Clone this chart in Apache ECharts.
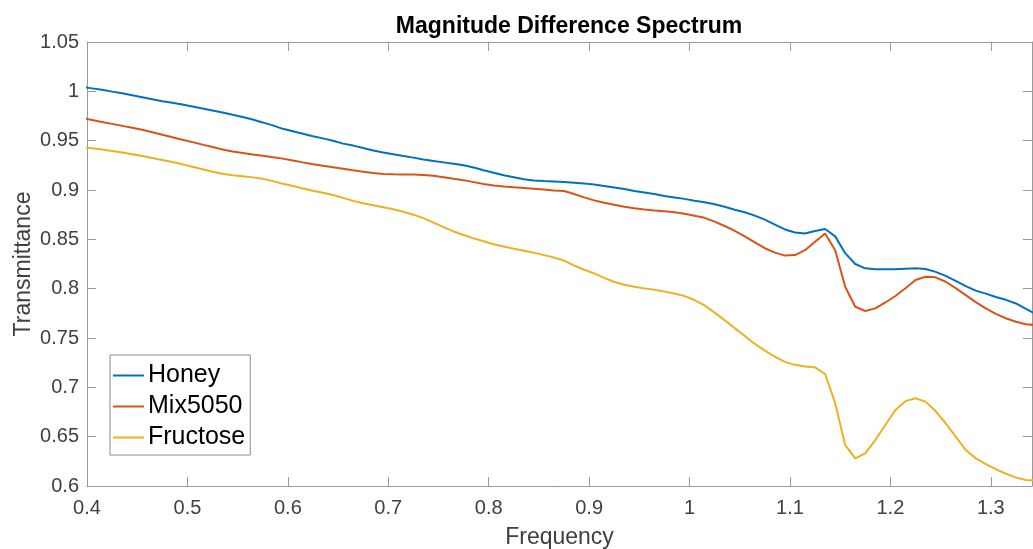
<!DOCTYPE html>
<html>
<head>
<meta charset="utf-8">
<script src="https://cdn.jsdelivr.net/npm/echarts@6/dist/echarts.min.js"></script>
<style>html,body{margin:0;padding:0;background:#fff}#c{width:1033px;height:549px}</style>
</head>
<body>
<div id="c"></div>
<script>
var frequency = [
0.395,0.405,0.415,0.425,0.435,0.445,0.455,0.465,0.475,0.485,
0.495,0.505,0.515,0.525,0.535,0.545,0.555,0.565,0.575,0.585,
0.595,0.605,0.615,0.625,0.635,0.645,0.655,0.665,0.675,0.685,
0.695,0.705,0.715,0.725,0.735,0.745,0.755,0.765,0.775,0.785,
0.795,0.805,0.815,0.825,0.835,0.845,0.855,0.865,0.875,0.885,
0.895,0.905,0.915,0.925,0.935,0.945,0.955,0.965,0.975,0.985,
0.995,1.005,1.015,1.025,1.035,1.045,1.055,1.065,1.075,1.085,
1.095,1.105,1.115,1.125,1.135,1.145,1.155,1.165,1.175,1.185,
1.195,1.205,1.215,1.225,1.235,1.245,1.255,1.265,1.275,1.285,
1.295,1.305,1.315,1.325,1.335,1.345];

var honey = [
1.0045,1.003,1.0015,0.9997,0.998,0.996,0.994,0.992,0.990,0.9885,
0.9866,0.9847,0.9827,0.9806,0.9785,0.9762,0.974,0.9714,0.9685,0.9655,
0.962,0.9595,0.957,0.9545,0.9523,0.950,0.947,0.945,0.9425,0.940,
0.938,0.9362,0.9345,0.9328,0.931,0.9295,0.928,0.9265,0.925,0.9228,
0.920,0.9175,0.915,0.913,0.911,0.9097,0.909,0.9085,0.908,0.9073,
0.9065,0.9055,0.904,0.9025,0.901,0.899,0.8975,0.896,0.894,0.8925,
0.891,0.889,0.8875,0.8855,0.883,0.880,0.8775,0.874,0.870,0.865,
0.860,0.857,0.856,0.8585,0.8605,0.853,0.836,0.825,0.8206,0.8198,
0.8196,0.8198,0.8203,0.8206,0.820,0.817,0.813,0.808,0.8025,0.798,
0.795,0.7915,0.7887,0.785,0.7795,0.774];

var mix5050 = [
0.973,0.971,0.969,0.967,0.965,0.963,0.961,0.9585,0.956,0.9535,
0.951,0.9485,0.946,0.9435,0.941,0.939,0.9375,0.936,0.9347,0.9333,
0.9318,0.930,0.928,0.9262,0.9245,0.923,0.9215,0.920,0.9186,0.9172,
0.9163,0.916,0.9158,0.9157,0.9153,0.9145,0.913,0.9113,0.910,0.908,
0.906,0.9045,0.9035,0.9027,0.902,0.9013,0.9005,0.8995,0.899,0.896,
0.8925,0.8895,0.887,0.885,0.883,0.8815,0.8803,0.8793,0.8785,0.8775,
0.876,0.874,0.8718,0.868,0.8635,0.8585,0.853,0.847,0.841,0.8365,
0.8335,0.834,0.839,0.8476,0.856,0.839,0.802,0.7817,0.7774,0.780,
0.786,0.7926,0.8005,0.8088,0.812,0.8115,0.807,0.8005,0.7935,0.7863,
0.780,0.7745,0.770,0.7665,0.764,0.763];

var fructose = [
0.9437,0.9423,0.941,0.9395,0.938,0.9363,0.9345,0.9325,0.9305,0.9283,
0.926,0.9235,0.921,0.9185,0.9165,0.915,0.914,0.9128,0.9113,0.909,
0.9063,0.904,0.9015,0.8993,0.8972,0.895,0.892,0.889,0.8865,0.8845,
0.8825,0.8805,0.878,0.875,0.8715,0.867,0.8623,0.858,0.8544,0.851,
0.848,0.845,0.8428,0.8405,0.8385,0.8365,0.834,0.8315,0.8285,0.8235,
0.8192,0.8155,0.811,0.8068,0.804,0.802,0.8003,0.7988,0.797,0.795,
0.7925,0.7885,0.783,0.7757,0.768,0.760,0.752,0.744,0.7372,0.731,
0.7258,0.7228,0.7212,0.7203,0.7135,0.684,0.6416,0.628,0.633,0.6466,
0.6618,0.677,0.686,0.689,0.6855,0.676,0.6636,0.650,0.6365,0.628,
0.6222,0.617,0.6125,0.6085,0.606,0.6058];

var seriesNames = ['Honey', 'Mix5050', 'Fructose'];
var seriesValues = [honey, mix5050, fructose];
var colors = ['#0072BD', '#D95319', '#EDB120'];

var FONT = 'Liberation Sans, Arial, Helvetica, sans-serif';
var axisColor = '#9a9a9a';
var labelColor = '#404040';

function pairs(vals) {
  return frequency.map(function (f, i) { return [f, vals[i]]; });
}

var chart = echarts.init(document.getElementById('c'), null, {renderer: 'canvas'});

var xBase = {
  type: 'value', min: 0.4, max: 1.341, interval: 0.1,
  splitLine: {show: false},
  axisLine: {show: true, onZero: false, lineStyle: {color: axisColor, width: 1}},
  axisTick: {show: true, inside: true, length: 9, lineStyle: {color: axisColor}},
};
var yBase = {
  type: 'value', min: 0.6, max: 1.05, interval: 0.05,
  splitLine: {show: false},
  axisLine: {show: true, onZero: false, lineStyle: {color: axisColor, width: 1}},
  axisTick: {show: true, inside: true, length: 9, lineStyle: {color: axisColor}},
};

var option = {
  animation: false,
  backgroundColor: '#fff',
  title: {
    text: 'Magnitude Difference Spectrum',
    left: 564, top: 10, textAlign: 'center',
    textStyle: {fontFamily: FONT, fontSize: 23, fontWeight: 'bold', color: '#000'}
  },
  grid: {left: 87, right: 1, top: 42, bottom: 63, containLabel: false, outerBoundsMode: 'none'},
  legend: {
    orient: 'vertical', left: 110, top: 355,
    data: seriesNames.map(function (n) { return {name: n, icon: 'rect'}; }),
    itemWidth: 31, itemHeight: 2, itemGap: 6,
    padding: [8, 5, 5, 3],
    backgroundColor: '#fff',
    borderColor: '#8c8c8c', borderWidth: 1, borderRadius: 0,
    textStyle: {fontFamily: FONT, fontSize: 25, lineHeight: 25, color: '#000', padding: [0, 0, 0, -1]}
  },
  xAxis: [
    Object.assign({}, xBase, {
      position: 'bottom',
      name: 'Frequency', nameLocation: 'middle', nameGap: 40, nameMoveOverlap: false,
      nameTextStyle: {fontFamily: FONT, fontSize: 23, color: labelColor},
      axisLabel: {show: true, margin: 12, showMaxLabel: false, fontFamily: FONT, fontSize: 20, color: labelColor}
    }),
    Object.assign({}, xBase, {position: 'top', axisLabel: {show: false}})
  ],
  yAxis: [
    Object.assign({}, yBase, {
      position: 'left',
      name: 'Transmittance', nameLocation: 'middle', nameGap: 52, nameMoveOverlap: false,
      nameTextStyle: {fontFamily: FONT, fontSize: 23, color: labelColor},
      axisLabel: {show: true, margin: 8, fontFamily: FONT, fontSize: 20, color: labelColor}
    }),
    Object.assign({}, yBase, {position: 'right', axisLabel: {show: false}})
  ],
  series: seriesNames.map(function (n, i) {
    return {
      name: n, type: 'line', xAxisIndex: 0, yAxisIndex: 0,
      data: pairs(seriesValues[i]),
      symbol: 'none', showSymbol: false, smooth: false, clip: true,
      lineStyle: {color: colors[i], width: 2},
      itemStyle: {color: colors[i]}
    };
  })
};
chart.setOption(option);
</script>
</body>
</html>
